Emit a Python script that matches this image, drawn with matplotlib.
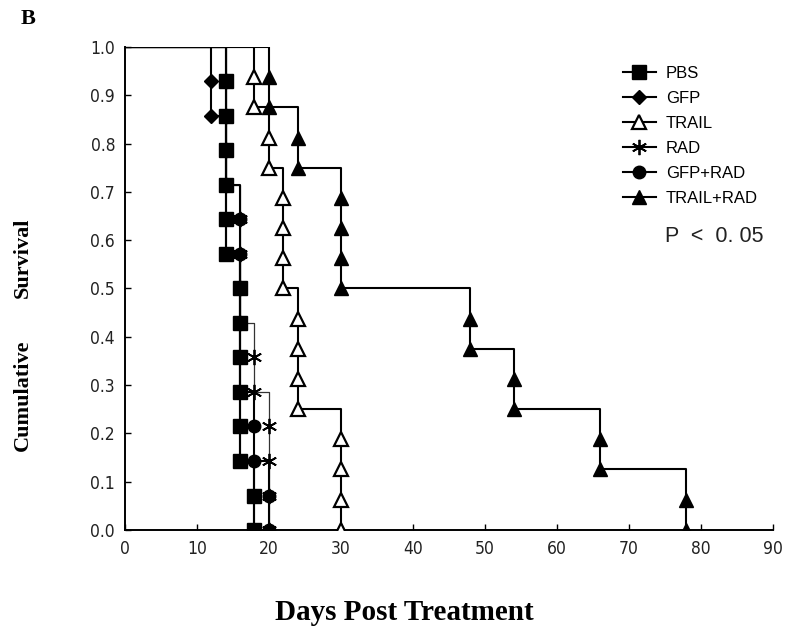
import matplotlib
matplotlib.use("Agg")
import matplotlib.pyplot as plt
from matplotlib.lines import Line2D

# event days and survival
groups = ["PBS", "GFP", "TRAIL", "RAD", "GFP+RAD", "TRAIL+RAD"]

surv14 = [0.929, 0.857, 0.786, 0.714, 0.643, 0.571, 0.500,
          0.429, 0.357, 0.286, 0.214, 0.143, 0.071, 0.0]
surv16 = [0.9375, 0.875, 0.8125, 0.75, 0.6875, 0.625, 0.5625, 0.5,
          0.4375, 0.375, 0.3125, 0.25, 0.1875, 0.125, 0.0625, 0.0]

pbs_days = [14, 14, 14, 14, 14, 14, 16, 16, 16, 16, 16, 16, 18, 18]
gfp_days = [12, 12, 14, 14, 14, 14, 16, 16, 16, 16, 16, 16, 18, 18]
trail_days = [18, 18, 20, 20, 22, 22, 22, 22, 24, 24, 24, 24, 30, 30, 30, 30]
rad_days = [14, 14, 14, 14, 16, 16, 16, 16, 18, 18, 20, 20, 20, 20]
gfprad_days = [14, 14, 14, 14, 16, 16, 16, 16, 16, 16, 18, 18, 20, 20]
trailrad_days = [20, 20, 24, 24, 30, 30, 30, 30, 48, 48, 54, 54, 66, 66, 78, 78]

xticks = [0, 10, 20, 30, 40, 50, 60, 70, 80, 90]
yticks = [0.0, 0.1, 0.2, 0.3, 0.4, 0.5, 0.6, 0.7, 0.8, 0.9, 1.0]

series = {
    "PBS": (pbs_days, surv14),
    "GFP": (gfp_days, surv14),
    "TRAIL": (trail_days, surv16),
    "RAD": (rad_days, surv14),
    "GFP+RAD": (gfprad_days, surv14),
    "TRAIL+RAD": (trailrad_days, surv16),
}
styles = {
    "PBS": dict(marker="s", mfc="black", ms=10, lw=1.5, color="black"),
    "GFP": dict(marker="D", mfc="black", ms=7.5, lw=1.5, color="black"),
    "TRAIL": dict(marker="^", mfc="white", ms=10, lw=1.5, color="black", mew=1.6),
    "RAD": dict(marker=(6, 2, 0), mfc="black", ms=11, lw=0.9, color="#333333", mew=1.3),
    "GFP+RAD": dict(marker="o", mfc="black", ms=9, lw=1.5, color="black"),
    "TRAIL+RAD": dict(marker="^", mfc="black", ms=10.5, lw=1.5, color="black"),
}
draw_order = ["GFP", "RAD", "GFP+RAD", "TRAIL", "TRAIL+RAD", "PBS"]

fig = plt.figure(figsize=(8, 6.36), dpi=100)
ax = fig.add_axes([0.156, 0.167, 0.81, 0.759])

for name in draw_order:
    days, surv = series[name]
    st = styles[name]
    ax.step([0] + days, [1.0] + surv, where="post", color=st["color"], lw=st["lw"], zorder=2)
    ax.plot(days, surv, ls="none", marker=st["marker"], ms=st["ms"], mfc=st["mfc"],
            mec="black", mew=st.get("mew", 1.0), zorder=3)

ax.set_xlim(0, 90)
ax.set_ylim(0, 1.0)
ax.set_xticks(xticks)
ax.set_yticks(yticks)
ax.set_yticklabels([f"{v:.1f}" for v in yticks])
for s in ["top", "right"]:
    ax.spines[s].set_visible(False)
for s in ["left", "bottom"]:
    ax.spines[s].set_linewidth(1.4)
ax.tick_params(direction="in", length=4, width=1, pad=7)
for lab in ax.get_xticklabels() + ax.get_yticklabels():
    lab.set_family("DejaVu Sans")
    lab.set_stretch("condensed")
    lab.set_fontsize(12.5)
    lab.set_color("#222222")

handles = []
for name in groups:
    st = styles[name]
    handles.append(Line2D([], [], color="black", lw=1.5, marker=st["marker"], ms=st["ms"],
                          mfc=st["mfc"], mec="black", mew=st.get("mew", 1.0)))
ax.legend(handles, groups, loc="upper left", bbox_to_anchor=(0.758, 0.975), frameon=False,
          prop={"family": "Liberation Sans", "size": 12}, handlelength=2.0,
          handletextpad=0.6, labelspacing=0.6, borderaxespad=0.0)

fig.text(0.831, 1 - 237 / 636, "P  <  0. 05", family="Liberation Sans", fontsize=15.5,
         va="center", ha="left", color="#222222")

fig.text(0.026, 1 - 19 / 636, "B", family="Liberation Serif", weight="bold", fontsize=16,
         va="center", ha="left")
fig.text(0.505, 1 - 613 / 636, "Days Post Treatment", family="Liberation Serif",
         weight="bold", fontsize=21, ha="center", va="center")
fig.text(0.028, 1 - 395 / 636, "Cumulative", family="Liberation Serif", weight="bold",
         fontsize=16, rotation=90, ha="center", va="center")
fig.text(0.028, 1 - 258 / 636, "Survival", family="Liberation Serif", weight="bold",
         fontsize=16, rotation=90, ha="center", va="center")

plt.savefig("out.png", dpi=100)
